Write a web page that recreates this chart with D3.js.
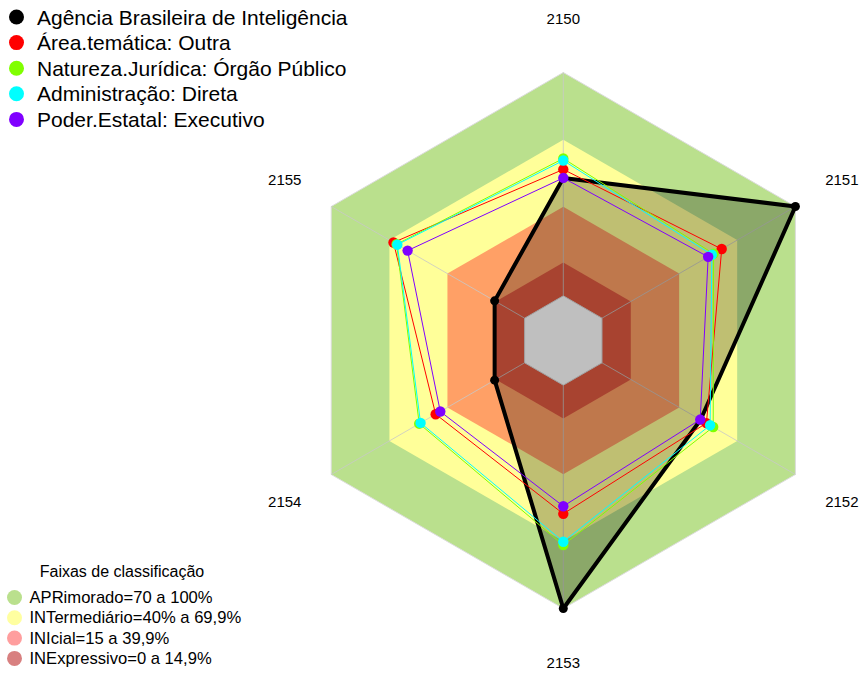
<!DOCTYPE html>
<meta charset="utf-8">
<style>
body { margin: 0; background: #fff; }
text { font-family: "Liberation Sans", Arial, sans-serif; fill: #000; }
</style>
<svg width="863" height="673"></svg>
<script src="https://cdn.jsdelivr.net/npm/d3@7/dist/d3.min.js"></script>
<script>
"use strict";

// eixos (códigos)
var axes = ["2150", "2151", "2152", "2153", "2154", "2155"];

// séries
var seriesNames = [
  "Agência Brasileira de Inteligência",
  "Área.temática: Outra",
  "Natureza.Jurídica: Órgão Público",
  "Administração: Direta",
  "Poder.Estatal: Executivo"
];
var seriesColors = ["#000000", "#FF0000", "#80FF00", "#00FFFF", "#8000FF"];

var agencia   = [52.8, 100, 51.0, 100, 15.5, 15.5];
var areaTem   = [56.6, 61.9, 54.0, 57.6, 46.0, 67.8];
var natureza  = [61.5, 57.7, 57.5, 71.6, 54.5, 66.2];
var adminDir  = [60.6, 56.8, 55.9, 70.1, 53.8, 65.8];
var poder     = [52.8, 54.9, 50.8, 54.2, 43.6, 60.5];
var seriesValues = [agencia, areaTem, natureza, adminDir, poder];

// faixas de classificação
var bandNames = [
  "APRimorado=70 a 100%",
  "INTermediário=40% a 69,9%",
  "INIcial=15 a 39,9%",
  "INExpressivo=0 a 14,9%"
];
var bandTops = [100, 69.9, 39.9, 14.9];
var bandColors = ["#BAE08D", "#FFFF99", "#FFA066", "#E05A40"];
var bandLegendColors = ["#BAE08D", "#FFFFA0", "#FF9E9E", "#D88080"];

//system
var svg = d3.select("svg");
var cx = 563.3, cy = 340.5, R = 268;

var r = d3.scaleLinear().domain([0, 100]).range([R / 6, R]);
var angle = d3.scaleLinear().domain([0, axes.length]).range([-Math.PI / 2, 1.5 * Math.PI]);

function px(i, v) { return cx + r(v) * Math.cos(angle(i)); }
function py(i, v) { return cy + r(v) * Math.sin(angle(i)); }

var hexLine = d3.line()
  .x(function(d) { return px(d.i, d.v); })
  .y(function(d) { return py(d.i, d.v); })
  .curve(d3.curveLinearClosed);

function ring(v) {
  return axes.map(function(a, i) { return {i: i, v: v}; });
}

// faixas
svg.append("g").selectAll("path")
  .data(bandTops)
  .enter().append("path")
    .attr("d", function(d) { return hexLine(ring(d)); })
    .attr("fill", function(d, k) { return bandColors[k]; });

// centro
svg.append("path")
  .attr("d", hexLine(ring(0)))
  .attr("fill", "#fff")
  .attr("stroke", "#d8d8d8");

svg.append("path")
  .attr("d", hexLine(ring(100)))
  .attr("fill", "none")
  .attr("stroke", "#dcdcdc");

// eixos radiais
svg.append("g").selectAll("line")
  .data(axes)
  .enter().append("line")
    .attr("x1", function(d, i) { return px(i, 0); })
    .attr("y1", function(d, i) { return py(i, 0); })
    .attr("x2", function(d, i) { return px(i, 100); })
    .attr("y2", function(d, i) { return py(i, 100); })
    .attr("stroke", "#c8c8c8")
    .attr("stroke-opacity", 0.8);

// rótulos dos eixos
svg.append("g").selectAll("text")
  .data(axes)
  .enter().append("text")
    .attr("x", function(d, i) { return cx + 1.2 * R * Math.cos(angle(i)); })
    .attr("y", function(d, i) { return cy + 1.2 * R * Math.sin(angle(i)); })
    .attr("text-anchor", "middle")
    .attr("dominant-baseline", "central")
    .style("font-size", "15px")
    .text(function(d) { return d; });

// séries
seriesValues.forEach(function(vals, s) {
  var pts = vals.map(function(v, i) { return {i: i, v: v}; });
  var g = svg.append("g");
  g.append("path")
    .attr("d", hexLine(pts))
    .attr("fill", s == 0 ? "rgba(0,0,0,0.25)" : "none")
    .attr("stroke", seriesColors[s])
    .attr("stroke-width", s == 0 ? 4 : 1)
    .attr("stroke-linejoin", "round");
  g.selectAll("circle")
    .data(pts)
    .enter().append("circle")
      .attr("cx", function(d) { return px(d.i, d.v); })
      .attr("cy", function(d) { return py(d.i, d.v); })
      .attr("r", s == 0 ? 4.5 : 5.2)
      .attr("fill", seriesColors[s]);
});

// legenda das séries
var leg = svg.append("g").selectAll("g")
  .data(seriesNames)
  .enter().append("g")
    .attr("transform", function(d, i) { return "translate(0," + (17 + i * 25.6) + ")"; });
leg.append("circle").attr("cx", 16.5).attr("r", 7.5)
  .attr("fill", function(d, i) { return seriesColors[i]; });
leg.append("text").attr("x", 37).attr("dominant-baseline", "central")
  .style("font-size", "21px")
  .text(function(d) { return d; });

// legenda das faixas
svg.append("text")
  .attr("x", 122).attr("y", 571)
  .attr("text-anchor", "middle").attr("dominant-baseline", "central")
  .style("font-size", "16px")
  .text("Faixas de classificação");

var leg2 = svg.append("g").selectAll("g")
  .data(bandNames)
  .enter().append("g")
    .attr("transform", function(d, i) { return "translate(0," + (597.5 + i * 20.3) + ")"; });
leg2.append("circle").attr("cx", 14.5).attr("r", 7.5)
  .attr("fill", function(d, i) { return bandLegendColors[i]; });
leg2.append("text").attr("x", 29.5).attr("dominant-baseline", "central")
  .style("font-size", "16.6px")
  .text(function(d) { return d; });
</script>
